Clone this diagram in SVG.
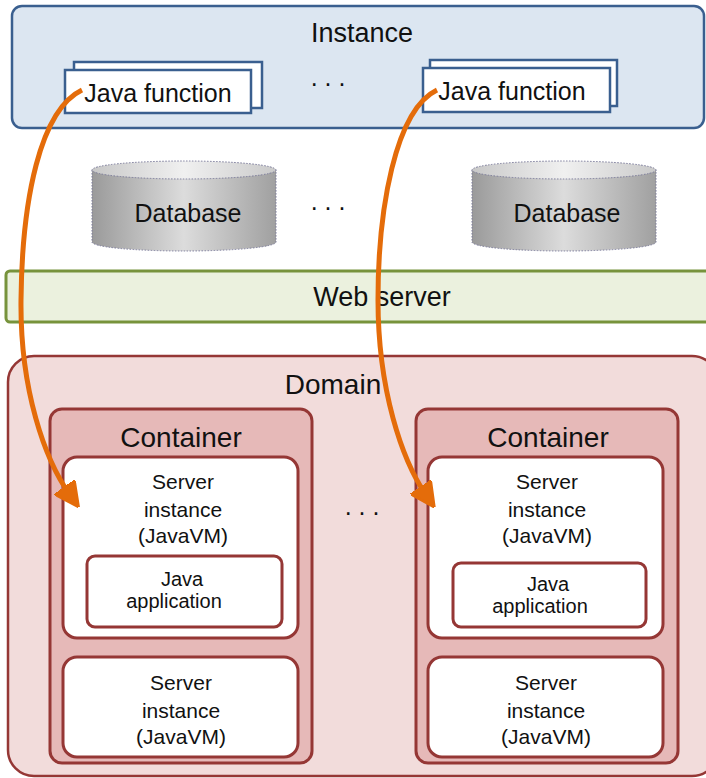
<svg xmlns="http://www.w3.org/2000/svg" width="706" height="778" viewBox="0 0 706 778">
<defs>
<style>
text{font-family:"Liberation Sans",Arial,sans-serif;fill:#111;text-anchor:middle}
.big{font-size:28px}
.mid{font-size:25px}
.sm{font-size:21px}
.xs{font-size:20px}
.jf{fill:#fff;stroke:#3a5f8f;stroke-width:2.5}
.red{stroke:#953735;stroke-width:3}
.wbox{fill:#fff;stroke:#953735;stroke-width:3}
.conn{fill:none;stroke:#e46c0a;stroke-width:5}
</style>
<linearGradient id="cyl" x1="0" x2="1" y1="0" y2="0">
<stop offset="0" stop-color="#9a9a9a"/>
<stop offset="0.5" stop-color="#dcdcdc"/>
<stop offset="1" stop-color="#a0a0a0"/>
</linearGradient>
<linearGradient id="cyltop" x1="0" x2="1" y1="0" y2="0">
<stop offset="0" stop-color="#c8c8c8"/>
<stop offset="0.5" stop-color="#f0f0f0"/>
<stop offset="1" stop-color="#cacaca"/>
</linearGradient>
<marker id="ah" viewBox="0 0 10 10" refX="4" refY="5" markerWidth="5" markerHeight="5" orient="auto" markerUnits="strokeWidth">
<path d="M0,0 L10,5 L0,10 z" fill="#e46c0a" stroke="#e46c0a" stroke-width="1" stroke-linejoin="round"/>
</marker>
</defs>
<rect width="706" height="778" fill="#fff"/>

<g id="instance">
<rect x="12" y="6" width="692" height="122" rx="10" fill="#dce6f1" stroke="#3a5f8f" stroke-width="2.5"/>
<text class="mid" x="362" y="42" style="font-size:27px">Instance</text>
<text class="mid" x="328" y="86">. . .</text>
</g>
<g id="javafunc1">
<rect class="jf" x="74" y="62" width="188" height="46"/>
<rect class="jf" x="65" y="70" width="186" height="43"/>
<text class="mid" x="158" y="102">Java function</text>
</g>
<g id="javafunc2">
<rect class="jf" x="430" y="60" width="187" height="46"/>
<rect class="jf" x="423" y="68" width="187" height="44"/>
<text class="mid" x="512" y="100">Java function</text>
</g>

<g id="db1">
<path d="M92,170 L92,242 A92,9 0 0 0 276,242 L276,170 Z" fill="url(#cyl)" stroke="#7a7a9a" stroke-width="1" stroke-dasharray="1.5,1.5"/>
<ellipse cx="184" cy="170" rx="92" ry="9" fill="url(#cyltop)" stroke="#7a7a9a" stroke-width="1" stroke-dasharray="1.5,1.5"/>
<text class="mid" x="188" y="222">Database</text>
</g>
<text class="mid" x="328" y="210">. . .</text>
<g id="db2">
<path d="M472,170 L472,242 A92,9 0 0 0 656,242 L656,170 Z" fill="url(#cyl)" stroke="#7a7a9a" stroke-width="1" stroke-dasharray="1.5,1.5"/>
<ellipse cx="564" cy="170" rx="92" ry="9" fill="url(#cyltop)" stroke="#7a7a9a" stroke-width="1" stroke-dasharray="1.5,1.5"/>
<text class="mid" x="567" y="222">Database</text>
</g>

<g id="webserver">
<rect x="6" y="271" width="704" height="51" rx="4" fill="#ebf1de" stroke="#77933c" stroke-width="3"/>
<text class="big" x="382" y="306" style="font-size:27px">Web server</text>
</g>

<g id="domain">
<rect x="8" y="356" width="710" height="420" rx="26" fill="#f2dcdb" stroke="#953735" stroke-width="2.5"/>
<text class="big" x="333" y="394">Domain</text>
<text class="mid" x="362" y="515">. . .</text>
</g>

<g id="container1">
<rect class="red" x="50" y="409" width="262" height="354" rx="12" fill="#e6b9b8"/>
<text class="big" x="181" y="447">Container</text>
</g>
<g id="server1a">
<rect class="wbox" x="63" y="457" width="235" height="181" rx="14"/>
<text class="sm" x="183" y="489">Server</text>
<text class="sm" x="183" y="517">instance</text>
<text class="sm" x="183" y="543">(JavaVM)</text>
</g>
<g id="javaapp1">
<rect class="wbox" x="87" y="556" width="195" height="71" rx="8"/>
<text class="xs" x="182" y="586">Java</text>
<text class="xs" x="174" y="608">application</text>
</g>
<g id="server1b">
<rect class="wbox" x="63" y="657" width="235" height="100" rx="14"/>
<text class="sm" x="181" y="690">Server</text>
<text class="sm" x="181" y="718">instance</text>
<text class="sm" x="181" y="744">(JavaVM)</text>
</g>

<g id="container2">
<rect class="red" x="416" y="409" width="262" height="354" rx="12" fill="#e6b9b8"/>
<text class="big" x="548" y="447">Container</text>
</g>
<g id="server2a">
<rect class="wbox" x="428" y="457" width="235" height="181" rx="14"/>
<text class="sm" x="547" y="489">Server</text>
<text class="sm" x="547" y="517">instance</text>
<text class="sm" x="547" y="543">(JavaVM)</text>
</g>
<g id="javaapp2">
<rect class="wbox" x="453" y="563" width="193" height="64" rx="8"/>
<text class="xs" x="548" y="591">Java</text>
<text class="xs" x="540" y="613">application</text>
</g>
<g id="server2b">
<rect class="wbox" x="428" y="657" width="235" height="100" rx="14"/>
<text class="sm" x="546" y="690">Server</text>
<text class="sm" x="546" y="718">instance</text>
<text class="sm" x="546" y="744">(JavaVM)</text>
</g>

<g id="connectors">
<path class="conn" d="M82,90 C40,110 22,200 21,300 C20,390 45,460 70,495" marker-end="url(#ah)"/>
<path class="conn" d="M437,90 C395,110 378,210 378,300 C378,390 402,460 426,495" marker-end="url(#ah)"/>
</g>
</svg>
